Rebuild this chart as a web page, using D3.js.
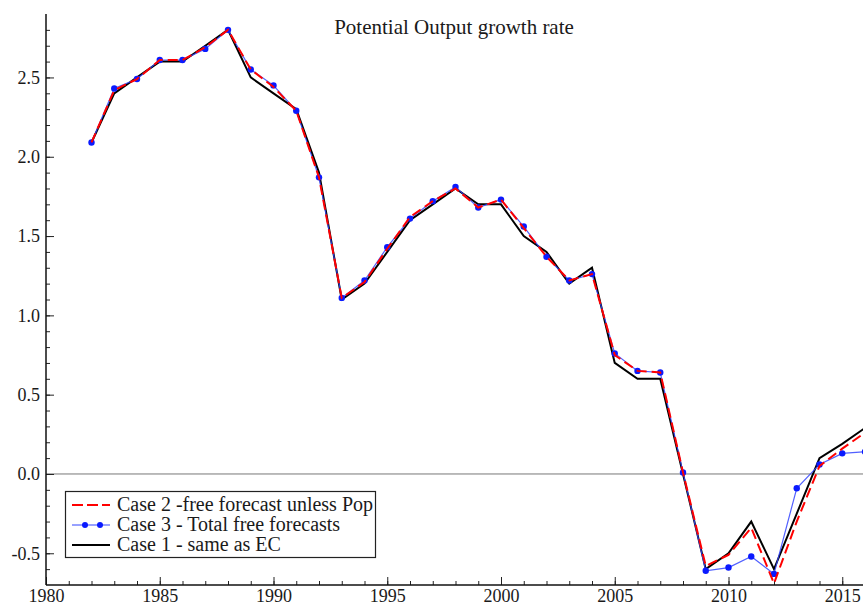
<!DOCTYPE html>
<html>
<head>
<meta charset="utf-8">
<script src="https://cdn.jsdelivr.net/npm/d3@7"></script>
<style>
  html, body { margin: 0; padding: 0; background: #fff; }
  svg { display: block; }
  text { font-family: "Liberation Serif", "Times New Roman", serif; fill: #1a1a1a; }
</style>
</head>
<body>
<svg id="chart" width="863" height="605"></svg>
<script>
// Potential output growth rate (%) under three forecasting assumptions
const years = d3.range(1982, 2017);

const case1 = [2.09, 2.40, 2.50, 2.60, 2.60, 2.70, 2.80, 2.50, 2.40, 2.30,
               1.90, 1.10, 1.20, 1.40, 1.60, 1.70, 1.80, 1.70, 1.70, 1.50,
               1.40, 1.20, 1.30, 0.70, 0.60, 0.60, 0.00, -0.60, -0.50, -0.30,
               -0.60, -0.25, 0.10, 0.19, 0.29];

const case2 = [2.09, 2.42, 2.49, 2.61, 2.61, 2.69, 2.80, 2.55, 2.44, 2.29,
               1.87, 1.11, 1.21, 1.42, 1.62, 1.72, 1.80, 1.68, 1.73, 1.55,
               1.37, 1.22, 1.26, 0.75, 0.65, 0.64, 0.01, -0.58, -0.51, -0.34,
               -0.69, -0.30, 0.05, 0.16, 0.26];

const case3 = [2.09, 2.43, 2.49, 2.61, 2.61, 2.68, 2.80, 2.55, 2.45, 2.29,
               1.87, 1.11, 1.22, 1.43, 1.61, 1.72, 1.81, 1.68, 1.73, 1.56,
               1.37, 1.22, 1.26, 0.76, 0.65, 0.64, 0.01, -0.61, -0.59, -0.52,
               -0.63, -0.09, 0.06, 0.13, 0.14];

const xMajorTicks = [1980, 1985, 1990, 1995, 2000, 2005, 2010, 2015];
const yMajorTicks = [-0.5, 0.0, 0.5, 1.0, 1.5, 2.0, 2.5];

const legendLabels = ["Case 2 -free forecast unless Pop",
                      "Case 3 - Total free forecasts",
                      "Case 1 - same as EC"];

const svg = d3.select("#chart");
const W = 863, H = 605;
const plotLeft = 46, plotBottom = 585, plotTop = 14;

const x = d3.scaleLinear().domain([1980, 2016]).range([plotLeft, plotLeft + 36 * 22.75]);
const y = d3.scaleLinear().domain([-0.7, 2.9]).range([plotBottom, plotTop]);

const plot = svg.append("g");

// clip so nothing spills past the axes
svg.append("defs").append("clipPath").attr("id", "plotclip")
  .append("rect").attr("x", plotLeft).attr("y", 0).attr("width", W - plotLeft).attr("height", plotBottom);

// zero reference line
plot.append("line")
  .attr("x1", plotLeft).attr("x2", W)
  .attr("y1", y(0)).attr("y2", y(0))
  .attr("stroke", "#777").attr("stroke-width", 1);

// y axis: minor ticks every 0.1, major ticks with labels every 0.5
const yMinor = d3.range(-6, 29).map(d => +(d / 10).toFixed(1));
plot.append("g").attr("transform", `translate(${plotLeft},0)`)
  .call(d3.axisLeft(y).tickValues(yMinor).tickSize(-4).tickFormat(""))
  .call(g => g.select(".domain").remove())
  .call(g => g.selectAll("line").attr("stroke", "#222"));
plot.append("g").attr("transform", `translate(${plotLeft},0)`)
  .call(d3.axisLeft(y).tickValues(yMajorTicks).tickSize(-8).tickPadding(6)
        .tickFormat(d3.format(".1f")))
  .call(g => g.select(".domain").remove())
  .call(g => g.selectAll("line").attr("stroke", "#222"))
  .call(g => g.selectAll("text").attr("font-size", 18).attr("font-family", null)
        .text(d => d < 0 ? "-" + d3.format(".1f")(-d) : d3.format(".1f")(d)));

// x axis: minor ticks every year, major ticks with labels every 5 years
const xMinor = d3.range(1980, 2017);
plot.append("g").attr("transform", `translate(0,${plotBottom})`)
  .call(d3.axisBottom(x).tickValues(xMinor).tickSize(-4).tickFormat(""))
  .call(g => g.select(".domain").remove())
  .call(g => g.selectAll("line").attr("stroke", "#222"));
plot.append("g").attr("transform", `translate(0,${plotBottom})`)
  .call(d3.axisBottom(x).tickValues(xMajorTicks).tickSize(-8).tickPadding(4)
        .tickFormat(d3.format("d")))
  .call(g => g.select(".domain").remove())
  .call(g => g.selectAll("line").attr("stroke", "#222"))
  .call(g => g.selectAll("text").attr("font-size", 18).attr("font-family", null));

// axis lines
plot.append("line").attr("x1", plotLeft).attr("x2", plotLeft).attr("y1", plotTop).attr("y2", plotBottom)
  .attr("stroke", "#111").attr("stroke-width", 1.5);
plot.append("line").attr("x1", plotLeft).attr("x2", W).attr("y1", plotBottom).attr("y2", plotBottom)
  .attr("stroke", "#111").attr("stroke-width", 1.5);

// series
const lines = plot.append("g").attr("clip-path", "url(#plotclip)");
const lineGen = vals => d3.line().x((d, i) => x(years[i])).y(d => y(d))(vals);

lines.append("path").attr("d", lineGen(case1))
  .attr("fill", "none").attr("stroke", "#000").attr("stroke-width", 2)
  .attr("stroke-linejoin", "miter");

lines.append("path").attr("d", lineGen(case3))
  .attr("fill", "none").attr("stroke", "#3344ff").attr("stroke-width", 1.2)
  .attr("stroke-opacity", 0.85);
lines.selectAll("circle.c3").data(case3).join("circle")
  .attr("class", "c3")
  .attr("cx", (d, i) => x(years[i])).attr("cy", d => y(d))
  .attr("r", 3.2).attr("fill", "#0a1aff");

lines.append("path").attr("d", lineGen(case2))
  .attr("fill", "none").attr("stroke", "#ff0000").attr("stroke-width", 2)
  .attr("stroke-dasharray", "10,5");

// title
svg.append("text")
  .attr("x", 454).attr("y", 34)
  .attr("text-anchor", "middle").attr("font-size", 21)
  .text("Potential Output growth rate");

// legend
const lg = svg.append("g");
lg.append("rect").attr("x", 65.5).attr("y", 491.5).attr("width", 310).attr("height", 66)
  .attr("fill", "#fff").attr("stroke", "#222").attr("stroke-width", 1.2);
const ly = [505, 525, 545];
lg.append("line").attr("x1", 72).attr("x2", 110).attr("y1", ly[0]).attr("y2", ly[0])
  .attr("stroke", "#ff0000").attr("stroke-width", 2).attr("stroke-dasharray", "11,4");
lg.append("line").attr("x1", 72).attr("x2", 110).attr("y1", ly[1]).attr("y2", ly[1])
  .attr("stroke", "#3344ff").attr("stroke-width", 1.2);
lg.selectAll("circle").data([85, 100]).join("circle")
  .attr("cx", d => d).attr("cy", ly[1]).attr("r", 3).attr("fill", "#0a1aff");
lg.append("line").attr("x1", 72).attr("x2", 110).attr("y1", ly[2]).attr("y2", ly[2])
  .attr("stroke", "#000").attr("stroke-width", 2);
lg.selectAll("text").data(legendLabels).join("text")
  .attr("x", 117).attr("y", (d, i) => ly[i] + 6)
  .attr("font-size", 20)
  .text(d => d);
</script>
</body>
</html>
